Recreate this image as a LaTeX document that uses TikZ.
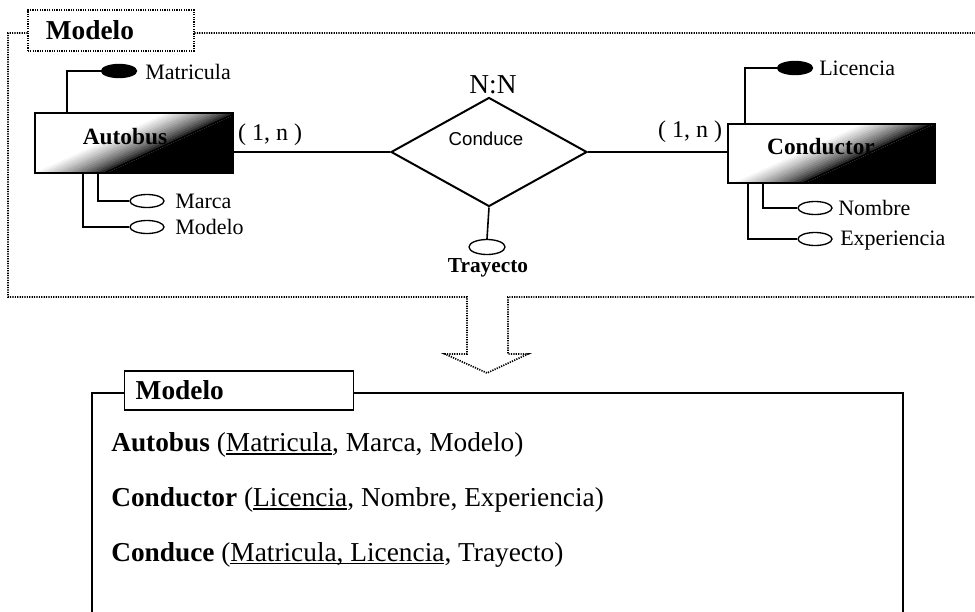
\documentclass[tikz,border=0pt]{standalone}
\usepackage{fontspec}
\setmainfont{Liberation Serif}
\newfontfamily\arialf{Liberation Sans}
\usetikzlibrary{shapes.geometric}
\newcommand\myul[1]{\setbox0\hbox{#1}\rlap{\rule[-2.2pt]{\wd0}{0.9pt}}\box0}
\newcommand\entgrad{%
  \begin{scope}[shift={(path picture bounding box.center)}]
    \fill[black] ({-200*(-0.415)-150*0.910},{-200*(-0.910)+150*0.415}) --
                 ({-200*(-0.415)+150*0.910},{-200*(-0.910)-150*0.415}) --
                 ({-16*(-0.415)+150*0.910},{-16*(-0.910)-150*0.415}) --
                 ({-16*(-0.415)-150*0.910},{-16*(-0.910)+150*0.415}) -- cycle;
    \foreach \k in {0,...,15}{
      \pgfmathsetmacro\sa{-16+2*\k}
      \pgfmathsetmacro\sb{\sa+2.4}
      \pgfmathtruncatemacro\pct{100-100*(\k/15)^0.7}
      \fill[black!\pct] ({\sa*(-0.415)-150*0.910},{\sa*(-0.910)+150*0.415}) --
                        ({\sa*(-0.415)+150*0.910},{\sa*(-0.910)-150*0.415}) --
                        ({\sb*(-0.415)+150*0.910},{\sb*(-0.910)-150*0.415}) --
                        ({\sb*(-0.415)-150*0.910},{\sb*(-0.910)+150*0.415}) -- cycle;
    }
  \end{scope}}
\begin{document}
\begin{tikzpicture}[x=0.75pt,y=-0.75pt,
  dotline/.style={line width=1.3pt, dash pattern=on 0.9pt off 0.9pt},
  conn/.style={line width=1.2pt},
  entity/.style={draw, line width=1.5pt, fill=white, inner sep=0pt, path picture={\entgrad}},
  keyattr/.style={ellipse, draw, fill=black, line width=1pt, minimum width=26.25pt, minimum height=9.75pt, inner sep=0pt},
  attr/.style={ellipse, draw, fill=white, line width=1pt, minimum width=25.5pt, minimum height=9.75pt, inner sep=0pt},
  lbl/.style={font=\fontsize{16.5pt}{19pt}\selectfont, inner sep=0pt, anchor=west},
  card/.style={font=\fontsize{18pt}{20pt}\selectfont, inner sep=0pt},
  enttext/.style={font=\fontsize{17.5pt}{20pt}\selectfont\bfseries, inner sep=0pt},
  tab/.style={draw, fill=white, align=left, font=\fontsize{20.5pt}{24pt}\selectfont\bfseries},
  rowtext/.style={font=\fontsize{20.5pt}{24pt}\selectfont, inner sep=0pt, anchor=west}
]
\useasboundingbox (0,0) rectangle (975,611);
\clip (0,0) rectangle (975,611);
\fill[white] (0,0) rectangle (975,611);

% ---------- upper frame with hollow arrow ----------
\draw[dotline] (990,33) -- (8,33) -- (8,297) -- (467,297) -- (467,354) -- (445,354) -- (487,373) -- (528,354) -- (508,354) -- (508,297) -- (990,297);
\node[tab, dotline, anchor=west, minimum height=30.75pt, text width=97.5pt, inner xsep=13.5pt] (tabtop) at (27,30.5) {Modelo};

% ---------- entities ----------
\node[entity, minimum width=148.5pt, minimum height=45pt] (autobus) at (134,143) {};
\node[enttext] (autobustxt) at (125,137) {Autobus};
\node[entity, minimum width=155.25pt, minimum height=44.25pt] (conductor) at (831.5,153.5) {};
\node[enttext] (conductortxt) at (821,147) {Conductor};

% ---------- relationship ----------
\node[diamond, draw, line width=1.5pt, minimum width=147pt, minimum height=81.75pt, inner sep=0pt] (rel) at (489,152) {};
\node[inner sep=0pt, font=\arialf\fontsize{14pt}{16pt}\selectfont] (reltxt) at (486,139) {Conduce};
\node[inner sep=0pt, font=\fontsize{20.5pt}{22pt}\selectfont] (nn) at (493,85) {N:N};

\draw[conn] (autobus.east |- rel.west) -- (rel.west);
\draw[conn] (rel.east) -- (conductor.west |- rel.east);
\node[card] (c1) at (270,135) {( 1, n )};
\node[card] (c2) at (690,132) {( 1, n )};

% ---------- Trayecto ----------
\node[attr, minimum width=27pt, minimum height=11.25pt] (tray) at (487,247) {};
\draw[conn] (rel.south) -- (tray.north);
\node[inner sep=0pt, font=\fontsize{16pt}{18pt}\selectfont\bfseries] (traytxt) at (488,268) {Trayecto};

% ---------- Autobus attributes ----------
\node[keyattr] (mat) at (119,71) {};
\node[lbl] (mattxt) at (145,72) {Matricula};
\draw[conn] (mat.west) -| ([xshift=24.75pt]autobus.north west);
\node[attr] (marca) at (147,201) {};
\node[lbl] (marcatxt) at (175,201) {Marca};
\draw[conn] (marca.west) -| ([xshift=48pt]autobus.south west);
\node[attr] (modelo) at (147,227) {};
\node[lbl] (modelotxt) at (175,227) {Modelo};
\draw[conn] (modelo.west) -| ([xshift=36.75pt]autobus.south west);

% ---------- Conductor attributes ----------
\node[keyattr] (lic) at (795,68) {};
\node[lbl] (lictxt) at (819,68) {Licencia};
\draw[conn] (lic.west) -| ([xshift=13.5pt]conductor.north west);
\node[attr] (nom) at (815,208) {};
\node[lbl] (nomtxt) at (838,208) {Nombre};
\draw[conn] (nom.west) -| ([xshift=27pt]conductor.south west);
\node[attr] (exp) at (815,239) {};
\node[lbl] (exptxt) at (840,241) {Experiencia};
\draw[conn] (exp.west) -| ([xshift=15.75pt]conductor.south west);

% ---------- lower frame ----------
\draw[line width=1.3pt] (92,660) -- (92,393) -- (903,393) -- (903,660);
\node[tab, line width=1.1pt, anchor=west, minimum height=29.25pt, text width=155.25pt, inner xsep=8.25pt] (tabbot) at (124,390.5) {Modelo};

\node[rowtext] (row1) at (111,445) {\textbf{Autobus} (\myul{Matricula}, Marca, Modelo)};
\node[rowtext] (row2) at (111,500) {\textbf{Conductor} (\myul{Licencia}, Nombre, Experiencia)};
\node[rowtext] (row3) at (111,555) {\textbf{Conduce} (\myul{Matricula, Licencia}, Trayecto)};
\end{tikzpicture}
\end{document}
